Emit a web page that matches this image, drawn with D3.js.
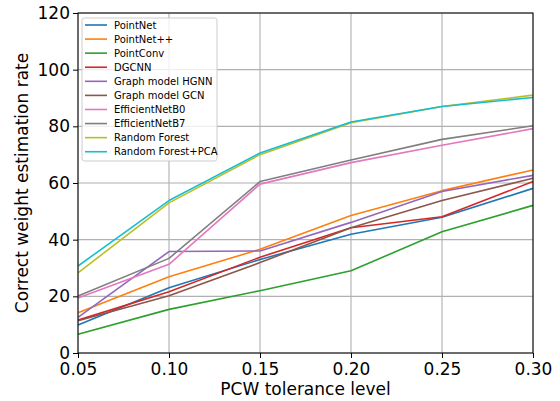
<!DOCTYPE html>
<html lang="en">
<head>
    <meta charset="UTF-8">
    <title>Correct weight estimation rate</title>
    <script src="https://d3js.org/d3.v7.min.js"></script>
    <style>
        body { margin: 0; background: #fff; }
        svg { display: block; font-family: "DejaVu Sans", sans-serif; }
        .tick text { font-size: 17px; fill: #000; }
    </style>
</head>
<body>
    <div id="chart"></div>
    <script>
        // data
        const tolerance = [0.05, 0.10, 0.15, 0.20, 0.25, 0.30];
        const yTicks = [0, 20, 40, 60, 80, 100, 120];
        const seriesNames = ["PointNet", "PointNet++", "PointConv", "DGCNN", "Graph model HGNN",
            "Graph model GCN", "EfficientNetB0", "EfficientNetB7", "Random Forest", "Random Forest+PCA"];
        const pointNet      = [9.9, 23.0, 33.0, 41.9, 47.9, 58.1];
        const pointNetPP    = [14.2, 26.9, 36.6, 48.5, 57.3, 64.6];
        const pointConv     = [6.6, 15.4, 22.0, 29.0, 42.8, 52.1];
        const dgcnn         = [11.6, 21.6, 33.8, 44.2, 48.1, 60.5];
        const hgnn          = [12.6, 35.8, 36.0, 46.1, 57.0, 62.7];
        const gcn           = [11.4, 20.2, 31.9, 44.2, 53.8, 61.7];
        const effB0         = [19.4, 31.3, 59.6, 67.2, 73.3, 79.2];
        const effB7         = [20.1, 33.4, 60.5, 68.1, 75.4, 80.2];
        const randomForest  = [28.3, 53.0, 70.0, 81.3, 87.0, 91.0];
        const randomForestPCA = [30.7, 53.8, 70.6, 81.5, 87.0, 90.2];

        const seriesValues = [pointNet, pointNetPP, pointConv, dgcnn, hgnn, gcn, effB0, effB7, randomForest, randomForestPCA];
        const colors = ["#1f77b4", "#ff7f0e", "#2ca02c", "#d62728", "#9467bd",
            "#8c564b", "#e377c2", "#7f7f7f", "#bcbd22", "#17becf"];

        // layout
        const W = 560, H = 401;
        const margin = {top: 13, right: 27, bottom: 48, left: 78};
        const width = W - margin.left - margin.right;
        const height = H - margin.top - margin.bottom;

        const svg = d3.select("#chart").append("svg")
            .attr("width", W)
            .attr("height", H);

        const g = svg.append("g")
            .attr("transform", `translate(${margin.left},${margin.top})`);

        const x = d3.scaleLinear().domain([0.05, 0.30]).range([0, width]);
        const y = d3.scaleLinear().domain([0, 120]).range([height, 0]);

        // grid
        g.append("g").selectAll("line")
            .data(tolerance)
            .join("line")
            .attr("x1", d => x(d)).attr("x2", d => x(d))
            .attr("y1", 0).attr("y2", height)
            .attr("stroke", "#b0b0b0").attr("stroke-width", 1.1);
        g.append("g").selectAll("line")
            .data(yTicks)
            .join("line")
            .attr("x1", 0).attr("x2", width)
            .attr("y1", d => y(d)).attr("y2", d => y(d))
            .attr("stroke", "#b0b0b0").attr("stroke-width", 1.1);

        // lines
        const line = d3.line()
            .x((d, i) => x(tolerance[i]))
            .y(d => y(d));

        seriesValues.forEach((vals, i) => {
            g.append("path")
                .datum(vals)
                .attr("fill", "none")
                .attr("stroke", colors[i])
                .attr("stroke-width", 1.6)
                .attr("stroke-linejoin", "round")
                .attr("d", line);
        });

        // axes
        const xAxis = g.append("g")
            .attr("transform", `translate(0,${height})`)
            .call(d3.axisBottom(x).tickValues(tolerance).tickFormat(d3.format(".2f")).tickSize(5).tickPadding(3));
        const yAxis = g.append("g")
            .call(d3.axisLeft(y).tickValues(yTicks).tickSize(5).tickPadding(3));
        [xAxis, yAxis].forEach(a => {
            a.select(".domain").remove();
            a.selectAll(".tick line").attr("stroke", "#000").attr("stroke-width", 1);
            a.attr("font-family", null).attr("font-size", null);
        });
        xAxis.selectAll(".tick text").attr("dy", "0.85em");

        // frame
        g.append("rect")
            .attr("width", width).attr("height", height)
            .attr("fill", "none").attr("stroke", "#000").attr("stroke-width", 1);

        // axis labels
        svg.append("text")
            .attr("x", margin.left + width / 2)
            .attr("y", H - 6)
            .attr("text-anchor", "middle")
            .attr("font-size", 17)
            .text("PCW tolerance level");
        svg.append("text")
            .attr("transform", `translate(28,${margin.top + height / 2}) rotate(-90)`)
            .attr("text-anchor", "middle")
            .attr("font-size", 17)
            .text("Correct weight estimation rate");

        // legend
        const legend = g.append("g").attr("transform", "translate(4,5)");
        legend.append("rect")
            .attr("width", 135).attr("height", 143)
            .attr("rx", 2.5)
            .attr("fill", "#fff").attr("fill-opacity", 0.8)
            .attr("stroke", "#cccccc").attr("stroke-width", 1);
        seriesNames.forEach((name, i) => {
            const yy = 7 + i * 14.08;
            legend.append("line")
                .attr("x1", 3).attr("x2", 25)
                .attr("y1", yy).attr("y2", yy)
                .attr("stroke", colors[i]).attr("stroke-width", 1.6);
            legend.append("text")
                .attr("x", 32).attr("y", yy)
                .attr("dy", "0.35em")
                .attr("font-size", 10)
                .text(name);
        });
    </script>
</body>
</html>
